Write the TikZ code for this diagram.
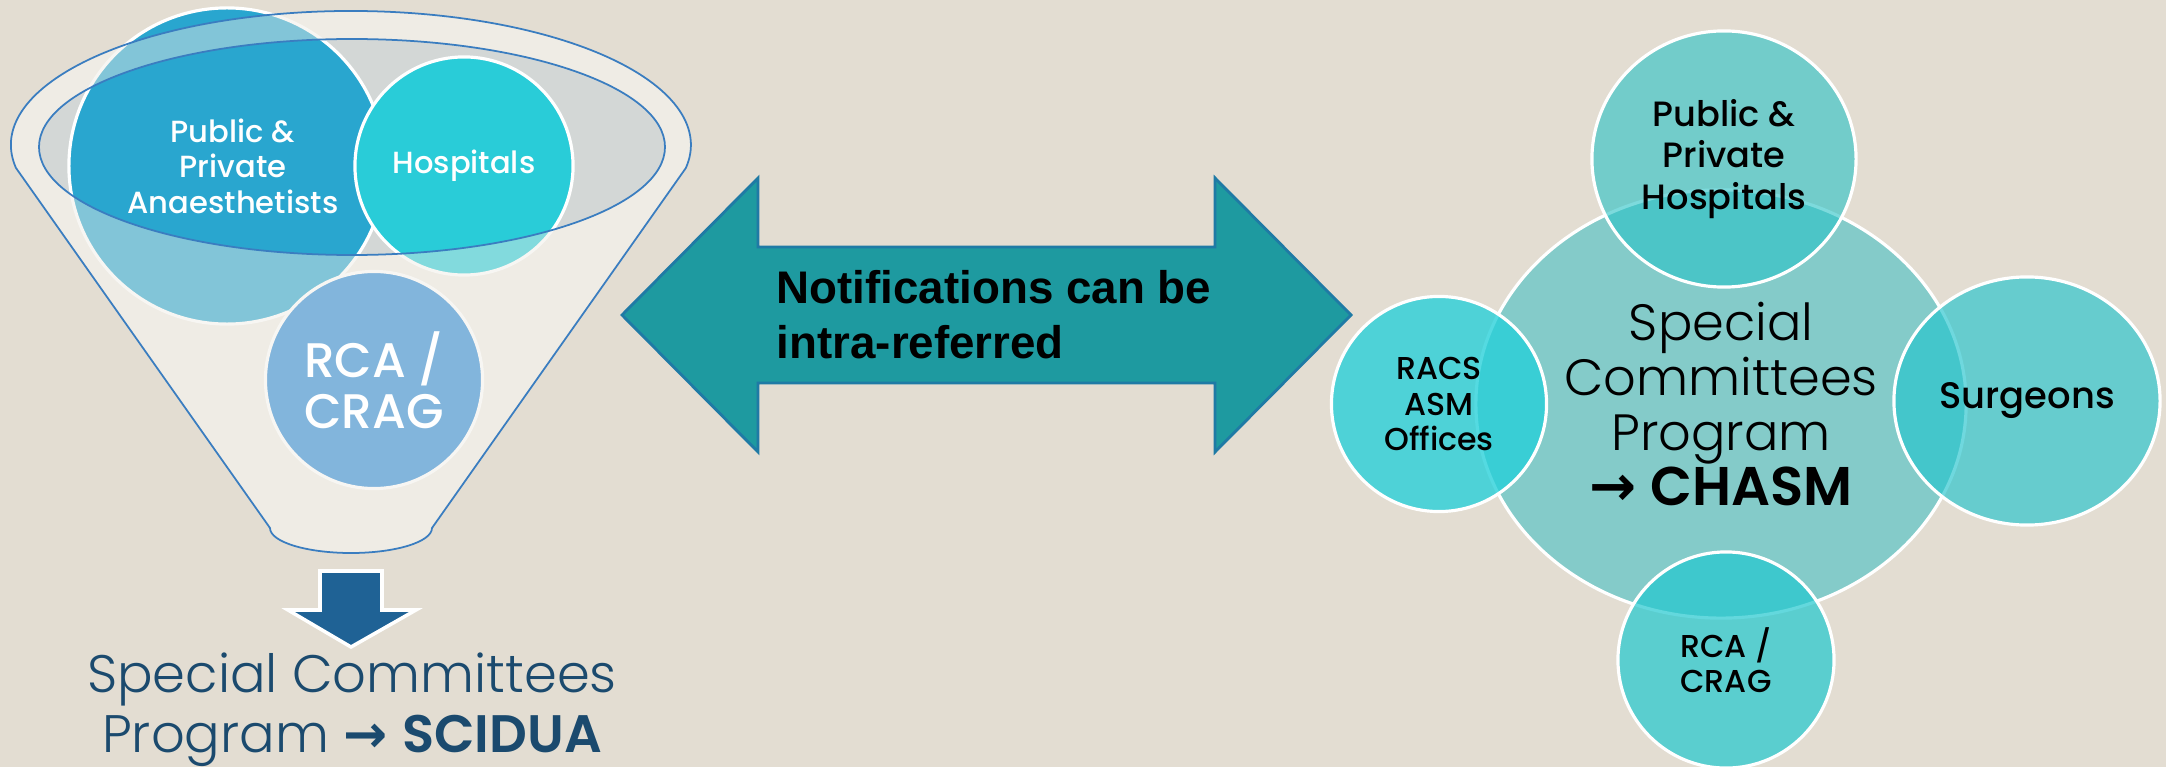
\documentclass[tikz,border=0pt]{standalone}
\usepackage{fontspec}
\setmainfont{Poppins}
\newfontfamily\thinfont{Poppins Light}
\newfontfamily\medfont{Poppins Medium}
\newfontfamily\semifont{Poppins SemiBold}
\newfontfamily\arialfont{Liberation Sans}
\newfontfamily\arrowfont{DejaVu Sans}
\usetikzlibrary{shapes.geometric, positioning}

\definecolor{pagebg}{HTML}{E3DDD2}
\definecolor{funnelcream}{HTML}{EFECE5}
\definecolor{funnelline}{HTML}{3A7DC0}
\definecolor{openinggrey}{HTML}{D3D7D6}
\definecolor{anaesblue}{HTML}{29A6CF}
\definecolor{hospcyan}{HTML}{29CCD8}
\definecolor{rcablue}{HTML}{2A88D5}
\definecolor{downblue}{HTML}{1F6295}
\definecolor{navytext}{HTML}{1B4A6E}
\definecolor{arrowteal}{HTML}{1E9AA0}
\definecolor{arrowedge}{HTML}{1F7AA5}
\definecolor{hubteal}{HTML}{84CBC9}
\definecolor{topteal}{RGB}{39,194,198}
\definecolor{surgteal}{RGB}{35,196,205}
\definecolor{racsteal}{RGB}{37,208,217}
\definecolor{lowteal}{RGB}{33,200,207}

% rim of the funnel: top of the outer ellipse, the two sides, the spout
\newcommand\funnelrim{(16,168) arc[start angle=170.1, end angle=369.9, x radius=340, y radius=134]
  -- (432,528) arc[start angle=0, end angle=180, x radius=81, y radius=25] -- cycle}

\tikzset{
  blob/.style={circle, draw=white, line width=0.9pt, inner sep=0pt},
  whitelabel/.style={align=center, text=white, font=\medfont\fontsize{8.7}{10.1}\selectfont},
  hub/.style={ellipse, draw=white, line width=0.9pt, fill=hubteal, inner sep=0pt, align=center,
    minimum width=4.9cm, minimum height=4.28cm, font=\thinfont\fontsize{14.5}{15.6}\selectfont},
  sat/.style={ellipse, draw=white, line width=0.9pt, inner sep=0pt, align=center, text opacity=1},
}

\begin{document}
\begin{tikzpicture}[x=0.01cm, y=-0.01cm]
  \useasboundingbox (0,0) rectangle (2166,767);
  \fill[pagebg] (0,0) rectangle (2166,767);

  % funnel body with its grey opening
  \fill[funnelcream] \funnelrim;
  \fill[openinggrey] (352,147) ellipse[x radius=313, y radius=108];
  \node[blob, fill=anaesblue, minimum size=3.16cm] (anaes) at (227,166) {};
  \node[blob, fill=hospcyan, minimum size=2.18cm] (hosp) at (464,166) {};
  \node[blob, fill=rcablue, minimum size=2.17cm] (rcaleft) at (374,380) {};
  % cream veil over the circles outside the opening
  \fill[funnelcream, fill opacity=0.45, even odd rule] \funnelrim
    (352,147) ellipse[x radius=313, y radius=108];
  \draw[funnelline, line width=0.5pt] \funnelrim;
  \draw[funnelline, line width=0.5pt] (352,147) ellipse[x radius=313, y radius=108];
  \node[whitelabel, xshift=0.06cm] (anaestext) at (anaes) {Public \&\\Private\\Anaesthetists};
  \node[whitelabel] (hosptext) at (hosp) {Hospitals};
  \node[whitelabel, font=\medfont\fontsize{13.8}{14.5}\selectfont] (rcatext) at (rcaleft) {RCA /\\CRAG};

  % down arrow and caption
  \draw[white, line width=1pt, fill=downblue] (320,571) -- (382,571) -- (382,610) -- (416,610)
    -- (351,647) -- (288,610) -- (320,610) -- cycle;
  \node[anchor=base, align=center, inner sep=0pt, text=navytext, font=\thinfont\fontsize{15}{16.8}\selectfont]
    (scidua) at (352,752) {Special Committees\\Program {\arrowfont\bfseries →} {\semifont SCIDUA}};

  % two-way arrow
  \draw[arrowedge, line width=0.8pt, fill=arrowteal] (622,315) -- (758,178) -- (758,247) -- (1215,247)
    -- (1215,178) -- (1351,315) -- (1215,452) -- (1215,383) -- (758,383) -- (758,452) -- cycle;
  \node[anchor=base west, align=left, inner sep=0pt, font=\arialfont\bfseries\fontsize{13}{15.4}\selectfont]
    (notify) at (776,358) {Notifications can be\\intra-referred};

  % hub and its satellites
  \node[hub] (scp) at (1721,404) {Special\\Committees\\Program\\{\arrowfont\bfseries\fontsize{16}{15.6}\selectfont →}
    {\semifont\fontsize{15.5}{15.6}\selectfont CHASM}};
  \node[sat, fill=topteal, fill opacity=0.6, minimum width=2.64cm, minimum height=2.56cm,
    font=\medfont\fontsize{10}{11.7}\selectfont] (pubhosp) at (1724,159) {Public \&\\Private\\Hospitals};
  \node[sat, fill=surgteal, fill opacity=0.65, minimum width=2.66cm, minimum height=2.48cm,
    font=\medfont\fontsize{10.5}{12}\selectfont] (surg) at (2027,401) {Surgeons};
  \node[sat, fill=racsteal, fill opacity=0.78, minimum width=2.15cm, minimum height=2.15cm,
    font=\medfont\fontsize{9}{10.2}\selectfont] (racs) at (1439,404) {RACS\\ASM\\Offices};
  \node[sat, fill=lowteal, fill opacity=0.7, minimum width=2.16cm, minimum height=2.16cm,
    font=\medfont\fontsize{9}{10}\selectfont] (rcaright) at (1726,660) {RCA /\\CRAG};
\end{tikzpicture}
\end{document}
